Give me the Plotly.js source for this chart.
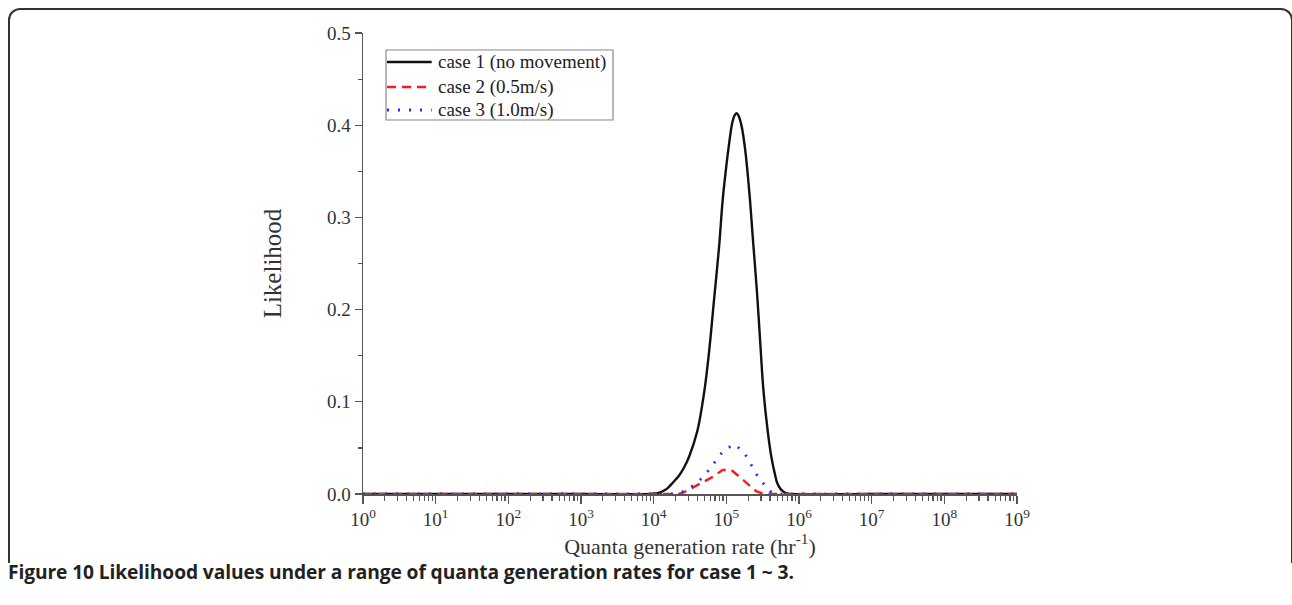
<!DOCTYPE html>
<html>
<head>
<meta charset="utf-8">
<script src="https://cdn.plot.ly/plotly-3.0.1.min.js"></script>
<style>
  html, body { margin: 0; padding: 0; background: #fff; }
  #wrap { position: relative; width: 1292px; height: 605px; overflow: hidden; }
  #frame { position: absolute; left: 8px; top: 8px; width: 1285px; height: 555px;
           border: 2px solid #333; border-bottom: none; border-radius: 12px 12px 0 0; box-sizing: border-box; }
  #chart { position: absolute; left: 0; top: 0; width: 1292px; height: 605px; }
  #caption { position: absolute; left: 8px; top: 558px; font-family: "Open Sans", "Noto Sans", sans-serif;
             font-weight: bold; font-size: 19.2px; color: #222; white-space: nowrap; letter-spacing: -0.1px; }
</style>
</head>
<body>
<div id="wrap">
  <div id="frame"></div>
  <div id="chart"></div>
  <div id="caption">Figure 10 Likelihood values under a range of quanta generation rates for case 1 ~ 3.</div>
</div>
<script>
// Quanta generation rate (hr^-1) and likelihood values
const case1X = [1, 10, 100, 1000, 8913, 10000, 11220, 12589, 14125, 15849, 18197, 22387, 26303, 30903, 39811, 50119, 58884, 67608, 79433, 89125, 100000, 107152, 120226, 128825, 138038, 147911, 162181, 181970, 208930, 234423, 263027, 295121, 323594, 371535, 416869, 467735, 501187, 562341, 602560, 660693, 741310, 1e7, 1e8, 1e9];
const case1Y = [0, 0, 0, 0, 0, 0.0005, 0.001, 0.002, 0.004, 0.007, 0.012, 0.020, 0.029, 0.041, 0.068, 0.113, 0.160, 0.210, 0.268, 0.319, 0.356, 0.375, 0.402, 0.410, 0.413, 0.410, 0.399, 0.373, 0.324, 0.272, 0.221, 0.160, 0.113, 0.068, 0.040, 0.021, 0.012, 0.005, 0.003, 0.001, 0, 0, 0, 0];

const case2X = [1, 10, 100, 1000, 10000, 22387, 26303, 63096, 89125, 117490, 177828, 257040, 331131, 1e6, 1e7, 1e8, 1e9];
const case2Y = [0, 0, 0, 0, 0, 0, 0.002, 0.018, 0.026, 0.026, 0.014, 0.003, 0, 0, 0, 0, 0];

const case3X = [1, 10, 100, 1000, 10000, 19953, 26303, 39811, 56234, 93325, 131826, 181970, 275423, 398107, 501187, 1e6, 1e7, 1e8, 1e9];
const case3Y = [0, 0, 0, 0, 0, 0, 0.003, 0.012, 0.025, 0.048, 0.054, 0.043, 0.018, 0.003, 0, 0, 0, 0, 0];

const seriesNames = ["case 1 (no movement)", "case 2 (0.5m/s)", "case 3 (1.0m/s)"];
const xTickVals = [1, 10, 100, 1000, 1e4, 1e5, 1e6, 1e7, 1e8, 1e9];
const xTickText = ["10<sup>0</sup>", "10<sup>1</sup>", "10<sup>2</sup>", "10<sup>3</sup>", "10<sup>4</sup>", "10<sup>5</sup>", "10<sup>6</sup>", "10<sup>7</sup>", "10<sup>8</sup>", "10<sup>9</sup>"];

const minorVals = [];
for (let e = 0; e < 9; e++) for (let m = 2; m <= 9; m++) minorVals.push(m * Math.pow(10, e));

const serif = "Liberation Serif, Times New Roman, serif";
const styles = [
  { color: "#111", width: 2.4, shape: "spline", smoothing: 1 },
  { color: "#ff1a1a", width: 2.4, dash: "9px,6px" },
  { color: "#2a2aff", width: 2.8, dash: "2px,9px" }
];

const traces = [
  { x: case1X, y: case1Y, name: seriesNames[0], type: "scatter", mode: "lines", line: styles[0] },
  { x: case2X, y: case2Y, name: seriesNames[1], type: "scatter", mode: "lines", line: styles[1] },
  { x: case3X, y: case3Y, name: seriesNames[2], type: "scatter", mode: "lines", line: styles[2] }
];

// Hand-built legend (compact row spacing like the original)
const legBox = { x0: 0.0352, x1: 0.3823, y0: 0.8113, y1: 0.9631 };
const legRowsY = [0.9371, 0.8829, 0.8330];
const legSample = [0.0367, 0.1050];
const legTextX = 0.1112;
const shapes = [{ type: "rect", xref: "paper", yref: "paper", x0: legBox.x0, x1: legBox.x1, y0: legBox.y0, y1: legBox.y1,
                  fillcolor: "#fff", line: { color: "#888", width: 1.2 }, layer: "above" }];
const annotations = [];
seriesNames.forEach((nm, i) => {
  shapes.push({ type: "line", xref: "paper", yref: "paper", x0: legSample[0], x1: legSample[1], y0: legRowsY[i], y1: legRowsY[i],
                line: { color: styles[i].color, width: styles[i].width, dash: styles[i].dash || "solid" }, layer: "above" });
  annotations.push({ xref: "paper", yref: "paper", x: legTextX, y: legRowsY[i], xanchor: "left", yanchor: "middle",
                     text: nm, showarrow: false, font: { family: serif, size: 19, color: "#222" } });
});

const axisLine = "#555";
const layout = {
  width: 1292, height: 605,
  margin: { l: 363, r: 275, t: 33, b: 111 },
  paper_bgcolor: "rgba(0,0,0,0)", plot_bgcolor: "rgba(0,0,0,0)",
  showlegend: false,
  shapes: shapes,
  annotations: annotations,
  xaxis: {
    type: "log", range: [0, 9], showgrid: false, zeroline: false,
    showline: true, linecolor: axisLine, linewidth: 1.5,
    tickmode: "array", tickvals: xTickVals, ticktext: xTickText,
    ticks: "outside", ticklen: 8, tickwidth: 1.3, tickcolor: axisLine,
    tickfont: { family: serif, size: 19, color: "#333" },
    minor: { tickmode: "array", tickvals: minorVals, ticks: "outside", ticklen: 5, tickwidth: 1.2, tickcolor: axisLine },
    title: { text: "Quanta generation rate (hr<sup>-1</sup>)", font: { family: serif, size: 22, color: "#333" }, standoff: 6 }
  },
  xaxis2: {
    type: "log", range: [0, 9], overlaying: "x", side: "top", showgrid: false, zeroline: false,
    showline: true, linecolor: axisLine, linewidth: 1.5,
    tickmode: "array", tickvals: xTickVals, showticklabels: false,
    ticks: "inside", ticklen: 8, tickwidth: 1.3, tickcolor: axisLine,
    minor: { tickmode: "array", tickvals: minorVals, ticks: "inside", ticklen: 5, tickwidth: 1.2, tickcolor: axisLine }
  },
  yaxis: {
    range: [0, 0.5], showgrid: false, zeroline: false,
    showline: true, linecolor: axisLine, linewidth: 1.5,
    tickmode: "linear", tick0: 0, dtick: 0.1, tickformat: ".1f",
    ticks: "outside", ticklen: 7, tickwidth: 1.3, tickcolor: axisLine,
    tickfont: { family: serif, size: 19, color: "#333" },
    minor: { dtick: 0.05, ticks: "outside", ticklen: 4, tickwidth: 1.2, tickcolor: axisLine },
    title: { text: "Likelihood", font: { family: serif, size: 25, color: "#333" }, standoff: 38 }
  },
  yaxis2: {
    range: [0, 0.5], overlaying: "y", side: "right", showgrid: false, zeroline: false,
    showline: true, linecolor: axisLine, linewidth: 1.5,
    tickmode: "linear", tick0: 0, dtick: 0.1, showticklabels: false,
    ticks: "inside", ticklen: 7, tickwidth: 1.3, tickcolor: axisLine,
    minor: { dtick: 0.05, ticks: "inside", ticklen: 4, tickwidth: 1.2, tickcolor: axisLine }
  }
};

Plotly.newPlot("chart", traces, layout, { staticPlot: true, displayModeBar: false });
</script>
</body>
</html>
